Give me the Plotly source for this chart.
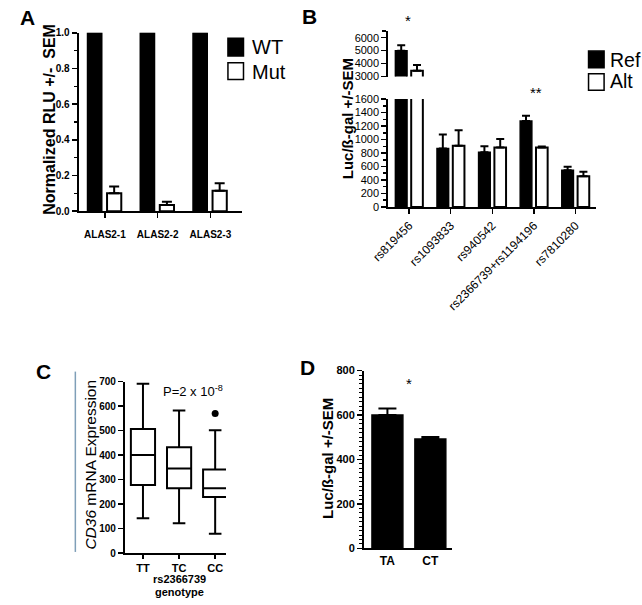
import plotly.graph_objects as go

W, H = 642, 605
FONT = "Arial, Liberation Sans, sans-serif"


def px(x):
    return x / W


def py(y):
    return 1 - y / H


# ---------------- data ----------------
# Panel A
a_cats = ["ALAS2-1", "ALAS2-2", "ALAS2-3"]
a_wt = [1.0, 1.0, 1.0]
a_mut = [0.10, 0.035, 0.115]
a_mut_err = [0.038, 0.018, 0.042]

# Panel B
b_cats = ["rs819456", "rs1093833", "rs940542", "rs2366739+rs1194196", "rs7810280"]
b_ref = [5000, 868, 810, 1275, 543]
b_ref_err = [420, 208, 92, 78, 53]
b_alt = [3450, 907, 882, 882, 456]
b_alt_err = [450, 232, 126, 15, 68]

# Panel C
c_cats = ["TT", "TC", "CC"]
c_low = [143, 122, 80]
c_q1 = [278, 265, 229]
c_med = [401, 346, 265]
c_q3 = [507, 433, 342]
c_high = [692, 582, 502]
c_out_cat = [2]
c_out_val = [570]

# Panel D
d_cats = ["TA", "CT"]
d_vals = [600, 492]
d_err = [30, 9]

fig = go.Figure()

# ---------------- Panel A ----------------
a_x = list(range(len(a_cats)))
fig.add_bar(x=a_x, y=a_wt, width=0.27, offset=-0.33,
            marker=dict(color="black", line=dict(color="black", width=1.5)),
            xaxis="x", yaxis="y", showlegend=False)
fig.add_bar(x=a_x, y=a_mut, width=0.27, offset=0.04,
            marker=dict(color="white", line=dict(color="black", width=2)),
            error_y=dict(type="data", symmetric=False, array=a_mut_err,
                         arrayminus=[0] * len(a_mut), color="black", thickness=2, width=5),
            xaxis="x", yaxis="y", showlegend=False)

# ---------------- Panel B ----------------
b_x = list(range(len(b_cats)))
for xa, ya in (("x2", "y2"), ("x3", "y3")):
    fig.add_bar(x=b_x, y=b_ref, width=0.28, offset=-0.33,
                marker=dict(color="black", line=dict(color="black", width=1.5)),
                error_y=dict(type="data", symmetric=False, array=b_ref_err,
                             arrayminus=[0] * len(b_ref), color="black", thickness=2, width=4),
                xaxis=xa, yaxis=ya, showlegend=False)
    fig.add_bar(x=b_x, y=b_alt, width=0.28, offset=0.05,
                marker=dict(color="white", line=dict(color="black", width=2)),
                error_y=dict(type="data", symmetric=False, array=b_alt_err,
                             arrayminus=[0] * len(b_alt), color="black", thickness=2, width=4),
                xaxis=xa, yaxis=ya, showlegend=False)

# ---------------- Panel C ----------------
c_x = list(range(len(c_cats)))
fig.add_trace(go.Box(x=c_x, q1=c_q1, median=c_med, q3=c_q3,
                     lowerfence=c_low, upperfence=c_high,
                     width=0.67, whiskerwidth=0.52,
                     line=dict(color="black", width=2), fillcolor="white",
                     boxpoints=False, xaxis="x4", yaxis="y4", showlegend=False))
fig.add_trace(go.Scatter(x=c_out_cat, y=c_out_val, mode="markers",
                         marker=dict(color="black", size=7),
                         xaxis="x4", yaxis="y4", showlegend=False))

# ---------------- Panel D ----------------
d_x = list(range(len(d_cats)))
fig.add_bar(x=d_x, y=d_vals, width=0.72, offset=-0.36,
            marker=dict(color="black", line=dict(color="black", width=1.5)),
            error_y=dict(type="data", symmetric=False, array=d_err,
                         arrayminus=[0] * len(d_vals), color="black", thickness=2, width=9),
            xaxis="x5", yaxis="y5", showlegend=False)

# ---------------- axes ----------------
base = dict(showline=True, linecolor="black", linewidth=2, ticks="outside",
            tickcolor="black", tickwidth=1.5, ticklen=5, showgrid=False,
            zeroline=False, fixedrange=True)
bold = lambda s: dict(family=FONT, size=s, color="black", weight="bold")
reg = lambda s: dict(family=FONT, size=s, color="black")

layout_axes = dict(
    xaxis=dict(base, domain=[px(62.3), px(230)], range=[-0.5, 2.59], anchor="y",
               tickvals=a_x, ticktext=a_cats, tickfont=bold(10), ticklabelstandoff=8),
    yaxis=dict(base, domain=[py(209.3), py(27.3)], range=[0, 1.0], anchor="x",
               tickvals=[0, 0.2, 0.4, 0.6, 0.8, 1.0], tickformat=".1f", tickfont=bold(10),
               minor=dict(ticks="outside", dtick=0.1, ticklen=3, tickcolor="black", tickwidth=1.5)),
    xaxis2=dict(base, domain=[px(381), px(595)], range=[-0.5, 4.5], anchor="y2",
                tickvals=b_x, ticktext=b_cats, tickangle=-45, tickfont=reg(12)),
    yaxis2=dict(base, domain=[py(205), py(95)], range=[0, 1600], anchor="x2",
                tickmode="linear", tick0=0, dtick=200, tickfont=reg(11),
                minor=dict(ticks="outside", dtick=100, ticklen=3, tickcolor="black", tickwidth=1.5)),
    xaxis3=dict(domain=[px(381), px(595)], range=[-0.5, 4.5], anchor="y3",
                visible=False, fixedrange=True),
    yaxis3=dict(base, domain=[py(72), py(25.7)], range=[3000, 6500], anchor="x3",
                tickvals=[3000, 4000, 5000, 6000], tickfont=reg(11),
                minor=dict(ticks="outside", tickvals=[6500], ticklen=4, tickcolor="black", tickwidth=1.5)),
    xaxis4=dict(base, domain=[px(110), px(214)], range=[-0.5, 2.3], anchor="y4",
                tickvals=c_x, ticktext=c_cats, tickfont=bold(11), ticklen=4),
    yaxis4=dict(base, domain=[py(558.3), py(383.3)], range=[0, 700], anchor="x4",
                tickmode="linear", tick0=0, dtick=100, tickfont=bold(10)),
    xaxis5=dict(base, domain=[px(356), px(447)], range=[-0.545, 1.515], anchor="y5",
                tickvals=d_x, ticktext=d_cats, tickfont=bold(12), ticklen=0),
    yaxis5=dict(base, domain=[py(553.3), py(372)], range=[0, 800], anchor="x5",
                tickmode="linear", tick0=0, dtick=200, tickfont=bold(11),
                minor=dict(ticks="outside", dtick=20, ticklen=3, tickcolor="black", tickwidth=1)),
)


def ann(x, y, text, font, **kw):
    d = dict(x=px(x), y=py(y), xref="paper", yref="paper", text=text,
             showarrow=False, font=font, xanchor="center", yanchor="middle",
             borderpad=0, borderwidth=0)
    d.update(kw)
    return d


annotations = [
    # panel letters
    ann(2, 12, "A", bold(21), xanchor="left"),
    ann(292, 11, "B", bold(21), xanchor="left"),
    ann(19, 373, "C", bold(21), xanchor="left"),
    ann(290, 369, "D", bold(21), xanchor="left"),
    # axis titles
    ann(33, 116, "Normalized RLU +/-\u00a0 SEM", bold(16), textangle=-90),
    ann(339, 115, "Luc/ß-gal +/-SEM", bold(15), textangle=-90),
    ann(75, 468, "<i>CD36</i> mRNA Expression", reg(15.5), textangle=-90),
    ann(319, 462, "Luc/ß-gal +/-SEM", bold(15), textangle=-90),
    ann(165.7, 585, "rs2366739", bold(11)),
    ann(165.7, 598, "genotype", bold(11)),
    # legends text
    ann(241, 42, "WT", reg(20), xanchor="left"),
    ann(241, 67, "Mut", reg(20), xanchor="left"),
    ann(609, 55, "Ref", reg(19.5), xanchor="left"),
    ann(609, 77, "Alt", reg(19.5), xanchor="left"),
    # significance / stats
    ann(401, 15, "*", reg(15)),
    ann(533, 88, "**", reg(15)),
    ann(149, 393, "P=2 x 10<sup>-8</sup>", reg(13), xanchor="left"),
    ann(402, 385, "*", reg(15)),
]


def rect(x0, y0, x1, y1, fill):
    return dict(type="rect", xref="paper", yref="paper",
                x0=px(x0), x1=px(x1), y0=py(y1), y1=py(y0),
                fillcolor=fill, line=dict(color="black", width=1.5))


shapes = [
    rect(216, 33, 232, 51, "black"),
    rect(216, 58, 232, 75, "white"),
    rect(587, 46, 603, 63, "black"),
    rect(587, 69, 603, 86, "white"),
    dict(type="line", xref="paper", yref="paper", x0=px(59), x1=px(59),
         y0=py(373), y1=py(557), line=dict(color="#7f9fb8", width=1.5)),
]

fig.update_layout(
    width=W, height=H, margin=dict(l=0, r=0, t=0, b=0),
    paper_bgcolor="white", plot_bgcolor="rgba(0,0,0,0)",
    barmode="overlay", showlegend=False,
    font=dict(family=FONT, color="black"),
    annotations=annotations, shapes=shapes,
    **layout_axes,
)

fig.write_html("out.html", config={"displayModeBar": False, "staticPlot": True})

# remove the browser's default page margin so the figure sits at (0, 0)
with open("out.html", "r", encoding="utf-8") as f:
    html = f.read()
html = html.replace("<head>", "<head><style>html,body{margin:0;padding:0;overflow:hidden;}</style>", 1)
with open("out.html", "w", encoding="utf-8") as f:
    f.write(html)
